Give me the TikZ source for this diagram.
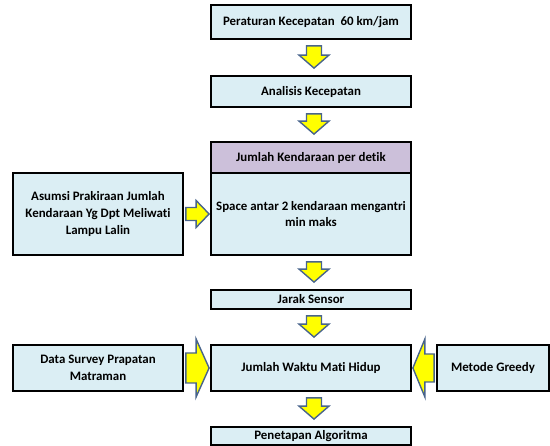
\documentclass[tikz,border=0pt]{standalone}
\usepackage{fontspec}
\setmainfont{Carlito}[Ligatures=NoCommon]
\usetikzlibrary{calc}
\definecolor{boxblue}{HTML}{DBEEF4}
\definecolor{boxpurple}{HTML}{CCC0DA}
\definecolor{arrowedge}{RGB}{72,100,140}
\definecolor{arrowyellow}{HTML}{FFFF00}
\tikzset{
  box/.style={draw=black, line width=1.8pt, fill=boxblue, inner sep=0pt, align=center,
    font=\fontsize{12.9}{16.8}\selectfont\bfseries},
  hdrbox/.style={box, fill=boxpurple},
  blkarrow/.style={draw=arrowedge, line width=1.4pt, fill=arrowyellow, line join=miter},
}
% down block arrow between #1 (above) and #2 (below)
\newcommand\blkdown[2]{%
  \path[blkarrow] let \p1=(#1.south), \p2=(#2.north), \n1={\x1+3pt}, \n2={\y1-6pt}, \n3={\y2+7pt} in
    (\n1-7.5pt,\n2) -- (\n1+7.5pt,\n2) -- (\n1+7.5pt,\n3+13pt) -- (\n1+15pt,\n3+13pt)
    -- (\n1,\n3) -- (\n1-15pt,\n3+13pt) -- (\n1-7.5pt,\n3+13pt) -- cycle;}
% right-pointing block arrow from #1 to #2, shaft half-height #3, head half-height #4
\newcommand\blkright[4]{%
  \path[blkarrow] let \p1=(#1.east), \p2=(#2.west), \n1={\x1+2pt}, \n2={\x2-1pt}, \n3={\y2} in
    (\n1,\n3+#3) -- (\n2-13pt,\n3+#3) -- (\n2-13pt,\n3+#4) -- (\n2,\n3)
    -- (\n2-13pt,\n3-#4) -- (\n2-13pt,\n3-#3) -- (\n1,\n3-#3) -- cycle;}
% left-pointing block arrow from #1 (right) to #2 (left)
\newcommand\blkleft[4]{%
  \path[blkarrow] let \p1=(#1.west), \p2=(#2.east), \n1={\x1-2pt}, \n2={\x2+1pt}, \n3={\y2} in
    (\n1,\n3+#3) -- (\n2+12pt,\n3+#3) -- (\n2+12pt,\n3+#4) -- (\n2,\n3)
    -- (\n2+12pt,\n3-#4) -- (\n2+12pt,\n3-#3) -- (\n1,\n3-#3) -- cycle;}
\begin{document}
\begin{tikzpicture}[x=1pt, y=-1pt]
\useasboundingbox (0,0) rectangle (550,446);
\node[box, minimum width=200pt, minimum height=34pt] (per) at (311,22) {Peraturan Kecepatan\ \ 60 km/jam};
\node[box, minimum width=200pt, minimum height=31pt] (ana) at (311,91.5) {Analisis Kecepatan};
\node[hdrbox, minimum width=200pt, minimum height=31pt] (hdr) at (311,157.5) {Jumlah Kendaraan per detik};
\node[box, minimum width=200pt, minimum height=82pt] (space) at (311,214) {Space antar 2 kendaraan mengantri\\min maks};
\node[box, minimum width=170pt, minimum height=82pt] (asu) at (98,214) {Asumsi Prakiraan Jumlah\\Kendaraan Yg Dpt Meliwati\\Lampu Lalin};
\node[box, minimum width=200pt, minimum height=19pt] (jarak) at (311,299.5) {Jarak Sensor};
\node[box, minimum width=200pt, minimum height=46pt] (jwm) at (311,368) {Jumlah Waktu Mati Hidup};
\node[box, minimum width=170pt, minimum height=46pt] (data) at (98,368) {Data Survey Prapatan\\Matraman};
\node[box, minimum width=112pt, minimum height=46pt] (greedy) at (493,368) {Metode Greedy};
\node[box, minimum width=200pt, minimum height=18pt] (pen) at (311,436) {Penetapan Algoritma};

\blkdown{per}{ana}
\blkdown{ana}{hdr}
\blkdown{space}{jarak}
\blkdown{jarak}{jwm}
\blkdown{jwm}{pen}
\blkright{asu}{space}{6.5pt}{13.5pt}
\blkright{data}{jwm}{15pt}{29pt}
\blkleft{greedy}{jwm}{14pt}{29pt}
\end{tikzpicture}
\end{document}
